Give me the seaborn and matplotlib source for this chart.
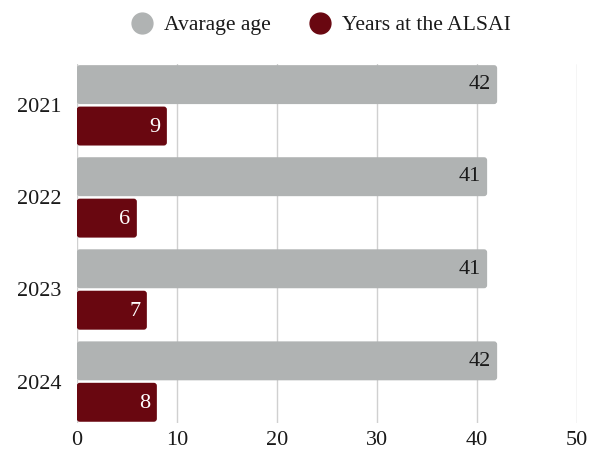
import matplotlib
matplotlib.use("Agg")
import matplotlib.pyplot as plt
from matplotlib.lines import Line2D
from matplotlib.patches import FancyBboxPatch
import pandas as pd
import seaborn as sns

years = ["2021", "2022", "2023", "2024"]
average_age = [42, 41, 41, 42]
years_at_alsai = [9, 6, 7, 8]
series_names = ["Avarage age", "Years at the ALSAI"]
x_ticks = [0, 10, 20, 30, 40, 50]

colors = {"Avarage age": "#b0b3b3", "Years at the ALSAI": "#690710"}
label_colors = {"Avarage age": "#1a1a1a", "Years at the ALSAI": "white"}

df = pd.DataFrame({
    "year": years * 2,
    "value": average_age + years_at_alsai,
    "series": [series_names[0]] * len(years) + [series_names[1]] * len(years),
})

sns.set_theme(style="white")
plt.rcParams["font.family"] = ["Liberation Serif", "DejaVu Serif"]

fig = plt.figure(figsize=(6, 4.5), dpi=100)
ax = fig.add_axes([0.128, 0.06, 0.834, 0.798])

sns.barplot(data=df, y="year", x="value", hue="series", hue_order=series_names,
            order=years, orient="h", palette=colors, width=0.9, gap=0.06,
            legend=False, ax=ax, saturation=1)

ax.set_xlim(0, 50)
ax.set_ylim(3.45, -0.45)
ax.set_xticks(x_ticks)
ax.set_xticklabels([str(t) for t in x_ticks])
ax.grid(axis="x", color="#d0d0d0", linewidth=1)
ax.grid(axis="y", visible=False)
ax.set_axisbelow(True)
for s in ax.spines.values():
    s.set_visible(False)
ax.tick_params(axis="both", length=0, labelsize=16, colors="#1a1a1a")
ax.tick_params(axis="y", pad=11)
ax.tick_params(axis="x", pad=6)
ax.set_xlabel("")
ax.set_ylabel("")

# rounded bars with value labels at their right end
px_x = 500 / 50.0
px_y = 359 / 3.9
bars = list(ax.patches)
for patch in bars:
    x0, y0 = patch.get_x(), patch.get_y()
    w, h = patch.get_width(), patch.get_height()
    fc = patch.get_facecolor()
    patch.remove()
    r = 3 / px_x
    rounded = FancyBboxPatch((x0, y0), w, h,
                             boxstyle=f"round,pad=0,rounding_size={r}",
                             mutation_aspect=px_x / px_y,
                             facecolor=fc, edgecolor="none", zorder=2)
    ax.add_patch(rounded)

for series, vals in zip(series_names, [average_age, years_at_alsai]):
    offset = -0.2325 if series == series_names[0] else 0.2325
    for i, v in enumerate(vals):
        ax.text(v - 0.65, i + offset + 0.01, str(v), ha="right", va="center",
                fontsize=16, color=label_colors[series], zorder=3)

handles = [Line2D([], [], marker="o", linestyle="", markersize=15,
                  markerfacecolor=colors[n], markeredgecolor=colors[n])
           for n in series_names]
fig.legend(handles, series_names, loc="center", ncol=2, frameon=False,
           bbox_to_anchor=(0.535, 0.944), fontsize=15.6, handlelength=1.0,
           handletextpad=0.5, columnspacing=1.8, labelcolor="#1a1a1a")

fig.savefig("out.png", dpi=100)
